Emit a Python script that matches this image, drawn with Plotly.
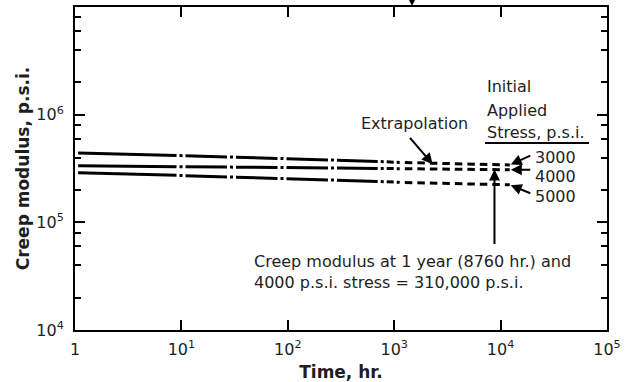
import math
import plotly.graph_objects as go

# Creep modulus of the material vs time at three initial stresses
stress_labels = ["3000", "4000", "5000"]

# time break points (hr) where the line style changes
time_hr = [1.07, 9, 700, 1130, 8760, 12200]

# creep modulus (p.s.i.) at each break point
modulus_3000 = [441000, 418000, 368000, 360000, 345000, 341000]
modulus_4000 = [335000, 329000, 317000, 315000, 310000, 308000]
modulus_5000 = [288000, 273000, 240000, 235000, 226000, 223000]

one_year_hr = 8760
one_year_modulus_4000 = 310000

x_tickvals = [1, 10, 100, 1000, 10000, 100000]
x_ticktext = ["1", "10<sup>1</sup>", "10<sup>2</sup>", "10<sup>3</sup>",
              "10<sup>4</sup>", "10<sup>5</sup>"]
y_tickvals = [1e4, 1e5, 1e6]
y_ticktext = ["10<sup>4</sup>", "10<sup>5</sup>", "10<sup>6</sup>"]
y_minor = [m * d for d in (1e4, 1e5, 1e6) for m in (2, 4, 6, 8)]

FONT = "DejaVu Sans"
INK = "#1e1e1e"

# plot frame in pixels, used to place the free text
L, R, T, B = 75, 607, 7, 330


def px(x):
    return (x - L) / (R - L)


def py(y):
    return (B - y) / (B - T)


# line style per stretch: measured, measured (sparse), extrapolated
segments = [
    (0, 2, "solid"),
    (1, 3, "0px,3px,3px,3px,41.5px,0px"),
    (2, 4, "0px,3px,3px,3px,7px,0px"),
    (3, 6, "0px,5px,7.5px,0px"),
]

fig = go.Figure()
for series in (modulus_3000, modulus_4000, modulus_5000):
    for a, b, dash in segments:
        fig.add_trace(go.Scatter(
            x=time_hr[a:b], y=series[a:b], mode="lines",
            line=dict(color="black", width=3, dash=dash),
            hoverinfo="skip", showlegend=False,
        ))

ann = []
lx = math.log10
# legend heading
for txt, yy in (("Initial", 87), ("Applied", 110), ("Stress, p.s.i.", 132)):
    ann.append(dict(text=txt, xref="paper", yref="paper",
                    x=px(485), y=py(yy),
                    xanchor="left", yanchor="middle", showarrow=False,
                    font=dict(size=16)))

# stress labels with arrows to line ends
ends = [modulus_3000[-1], modulus_4000[-1], modulus_5000[-1]]
arrow_dy = [-10, 0, 9]
label_y = [157, 176.5, 196]
for lab, yv, dy, ly in zip(stress_labels, ends, arrow_dy, label_y):
    ann.append(dict(text="", x=lx(time_hr[-1]), y=lx(yv), xref="x", yref="y",
                    ax=22, ay=dy, showarrow=True,
                    arrowhead=2, arrowsize=1.1, arrowwidth=2,
                    arrowcolor="black", standoff=1))
    ann.append(dict(text=lab, xref="paper", yref="paper",
                    x=px(533), y=py(ly),
                    xanchor="left", yanchor="middle", showarrow=False,
                    font=dict(size=16)))

# extrapolation note
ann.append(dict(text="", x=lx(2300), y=lx(346000), xref="x", yref="y",
                ax=-24, ay=-28, showarrow=True, arrowhead=2, arrowsize=1.1,
                arrowwidth=2, arrowcolor="black"))
ann.append(dict(text="Extrapolation", xref="paper", yref="paper",
                x=px(414), y=py(124), xanchor="center", yanchor="middle",
                showarrow=False, font=dict(size=16)))

# one-year reading
ann.append(dict(text="", x=lx(one_year_hr), y=lx(one_year_modulus_4000),
                xref="x", yref="y", ax=0, ay=76, showarrow=True,
                arrowhead=2, arrowsize=1.1, arrowwidth=2, arrowcolor="black"))
ann.append(dict(text="Creep modulus at 1 year (8760 hr.) and<br>"
                     "4000 p.s.i. stress = 310,000 p.s.i.",
                xref="paper", yref="paper", x=px(252), y=py(250),
                xanchor="left", yanchor="top",
                align="left", showarrow=False, font=dict(size=16)))

# pointer entering from above the frame
ann.append(dict(text="", x=lx(1470), y=1, xref="x", yref="paper",
                ax=0, ay=-30, showarrow=True, arrowhead=2, arrowsize=0.9,
                arrowwidth=2, arrowcolor="black", standoff=1))

axis_common = dict(
    type="log", showline=True, linewidth=2, linecolor="black",
    mirror="ticks", ticks="inside", ticklen=10, tickwidth=2,
    tickcolor="black", showgrid=False, zeroline=False, automargin=False,
    tickfont=dict(size=16, color=INK),
)

fig.update_layout(
    width=626, height=382,
    margin=dict(l=L, r=626 - R, t=T, b=382 - B),
    paper_bgcolor="white", plot_bgcolor="white",
    font=dict(family=FONT, size=16, color=INK),
    xaxis=dict(axis_common, range=[0, 5], tickvals=x_tickvals,
               ticktext=x_ticktext, ticklabelstandoff=4,
               title=dict(text="<b>Time, hr.</b>", standoff=11,
                          font=dict(size=17))),
    yaxis=dict(axis_common, range=[4, 7], tickvals=y_tickvals,
               ticktext=y_ticktext, ticklabelstandoff=6,
               minor=dict(tickvals=y_minor, ticks="inside", ticklen=6,
                          tickwidth=2, tickcolor="black", showgrid=False),
               title=dict(text="<b>Creep modulus, p.s.i.</b>", standoff=2,
                          font=dict(size=17))),
    annotations=ann,
    shapes=[dict(type="line", xref="paper", yref="paper",
                 x0=px(485), x1=px(589), y0=py(143), y1=py(143),
                 line=dict(color="black", width=2))],
)

fig.write_html("out.html")
